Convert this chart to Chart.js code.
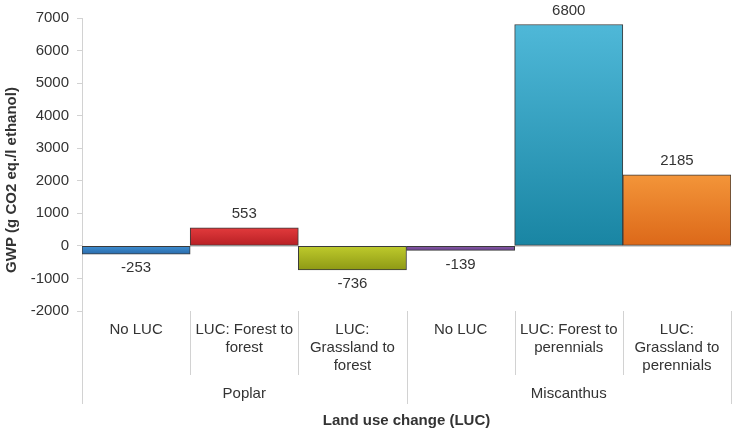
<!DOCTYPE html>
<html>
<head>
<meta charset="utf-8">
<script src="https://cdn.jsdelivr.net/npm/chart.js@4/dist/chart.umd.min.js"></script>
<style>
html,body{margin:0;padding:0;background:#fff;}
#wrap{width:734px;height:433px;position:relative;}
</style>
</head>
<body>
<div id="wrap"><canvas id="c" width="734" height="433"></canvas></div>
<script>
const categories = [
  ["No LUC"],
  ["LUC: Forest to", "forest"],
  ["LUC:", "Grassland to", "forest"],
  ["No LUC"],
  ["LUC: Forest to", "perennials"],
  ["LUC:", "Grassland to", "perennials"]
];
const groups = ["Poplar", "Miscanthus"];
const groupSizes = [3, 3];
const values = [-253, 553, -736, -139, 6800, 2185];
const yTicks = { min: -2000, max: 7000, step: 1000 };
const topColors = ["#3f8fd2", "#e23a3c", "#bfcb2c", "#8b5ba9", "#4fb8d8", "#f39539"];
const bottomColors = ["#2a6cac", "#b71f24", "#8e9915", "#6a4290", "#1985a3", "#dc6819"];
const yTitle = "GWP (g CO2 eq./l ethanol)";
const xTitle = "Land use change (LUC)";

const FONT = "'Liberation Sans', Arial, sans-serif";
const TXT = "#333333";
const LINE = "#d2d2d2";
const FS = 15;

function barGradient(ctx) {
  const chart = ctx.chart;
  const i = ctx.dataIndex;
  const ys = chart.scales.y;
  if (!chart.chartArea || !ys || i === undefined) return topColors[i || 0];
  const v = values[i];
  const a = ys.getPixelForValue(Math.max(v, 0));
  const b = ys.getPixelForValue(Math.min(v, 0));
  const g = chart.ctx.createLinearGradient(0, a, 0, b + 0.01);
  g.addColorStop(0, topColors[i]);
  g.addColorStop(1, bottomColors[i]);
  return g;
}

const tablePlugin = {
  id: 'tablePlugin',
  beforeDatasetsDraw(chart) {
    const c = chart.ctx, ys = chart.scales.y, ca = chart.chartArea;
    const y0 = ys.getPixelForValue(0);
    c.save();
    c.strokeStyle = LINE; c.lineWidth = 1;
    c.beginPath(); c.moveTo(ca.left, Math.round(y0) + 0.5); c.lineTo(ca.right, Math.round(y0) + 0.5); c.stroke();
    c.restore();
  },
  afterDatasetsDraw(chart) {
    const c = chart.ctx, xs = chart.scales.x, ys = chart.scales.y, ca = chart.chartArea;
    c.save();
    c.font = FS + "px " + FONT; c.fillStyle = TXT; c.textAlign = "center"; c.textBaseline = "middle";
    values.forEach((v, i) => {
      const x = xs.getPixelForValue(i);
      const y = ys.getPixelForValue(v);
      c.fillText(String(v), x, v >= 0 ? y - 14 : y + 14);
    });
    const n = values.length;
    const w = (xs.getPixelForValue(1) - xs.getPixelForValue(0));
    const bounds = [];
    for (let i = 0; i <= n; i++) bounds.push(xs.getPixelForValue(0) - w / 2 + i * w);
    const groupEdges = [0];
    let acc = 0; groupSizes.forEach(s => { acc += s; groupEdges.push(acc); });
    const top = ca.bottom;
    c.strokeStyle = LINE; c.lineWidth = 1;
    bounds.forEach((bx, i) => {
      const isGroup = groupEdges.includes(i);
      const xx = Math.round(bx) + 0.5;
      c.beginPath(); c.moveTo(xx, top); c.lineTo(xx, isGroup ? top + 93 : top + 64); c.stroke();
    });
    c.fillStyle = TXT; c.font = FS + "px " + FONT; c.textAlign = "center"; c.textBaseline = "middle";
    categories.forEach((lines, i) => {
      const x = xs.getPixelForValue(i);
      lines.forEach((t, k) => c.fillText(t, x, top + 19 + k * 18));
    });
    groups.forEach((g, gi) => {
      const x = (bounds[groupEdges[gi]] + bounds[groupEdges[gi + 1]]) / 2;
      c.fillText(g, x, top + 83);
    });
    c.font = "bold " + FS + "px " + FONT;
    c.fillText(xTitle, (ca.left + ca.right) / 2, top + 110);
    c.translate(12, 180);
    c.rotate(-Math.PI / 2);
    c.fillText(yTitle, 0, 0);
    c.restore();
  }
};

new Chart(document.getElementById('c'), {
  type: 'bar',
  data: {
    labels: categories.map(l => l.join(' ')),
    datasets: [{
      data: values,
      backgroundColor: barGradient,
      borderColor: "#3a3a3a",
      borderWidth: 1,
      borderSkipped: false,
      barPercentage: 1,
      categoryPercentage: 1
    }]
  },
  options: {
    responsive: false,
    animation: false,
    devicePixelRatio: 1,
    layout: { padding: { top: 18, bottom: 122, right: 3, left: 0 } },
    plugins: { legend: { display: false }, tooltip: { enabled: false } },
    scales: {
      x: { display: false },
      y: {
        min: yTicks.min, max: yTicks.max,
        ticks: { stepSize: yTicks.step, color: TXT, font: { family: FONT, size: FS }, padding: 8,
                 callback: v => String(v) },
        grid: { drawOnChartArea: false, tickLength: 5, color: LINE },
        border: { color: LINE },
        afterFit(scale) { scale.width = 82; }
      }
    }
  },
  plugins: [tablePlugin]
});
</script>
</body>
</html>
